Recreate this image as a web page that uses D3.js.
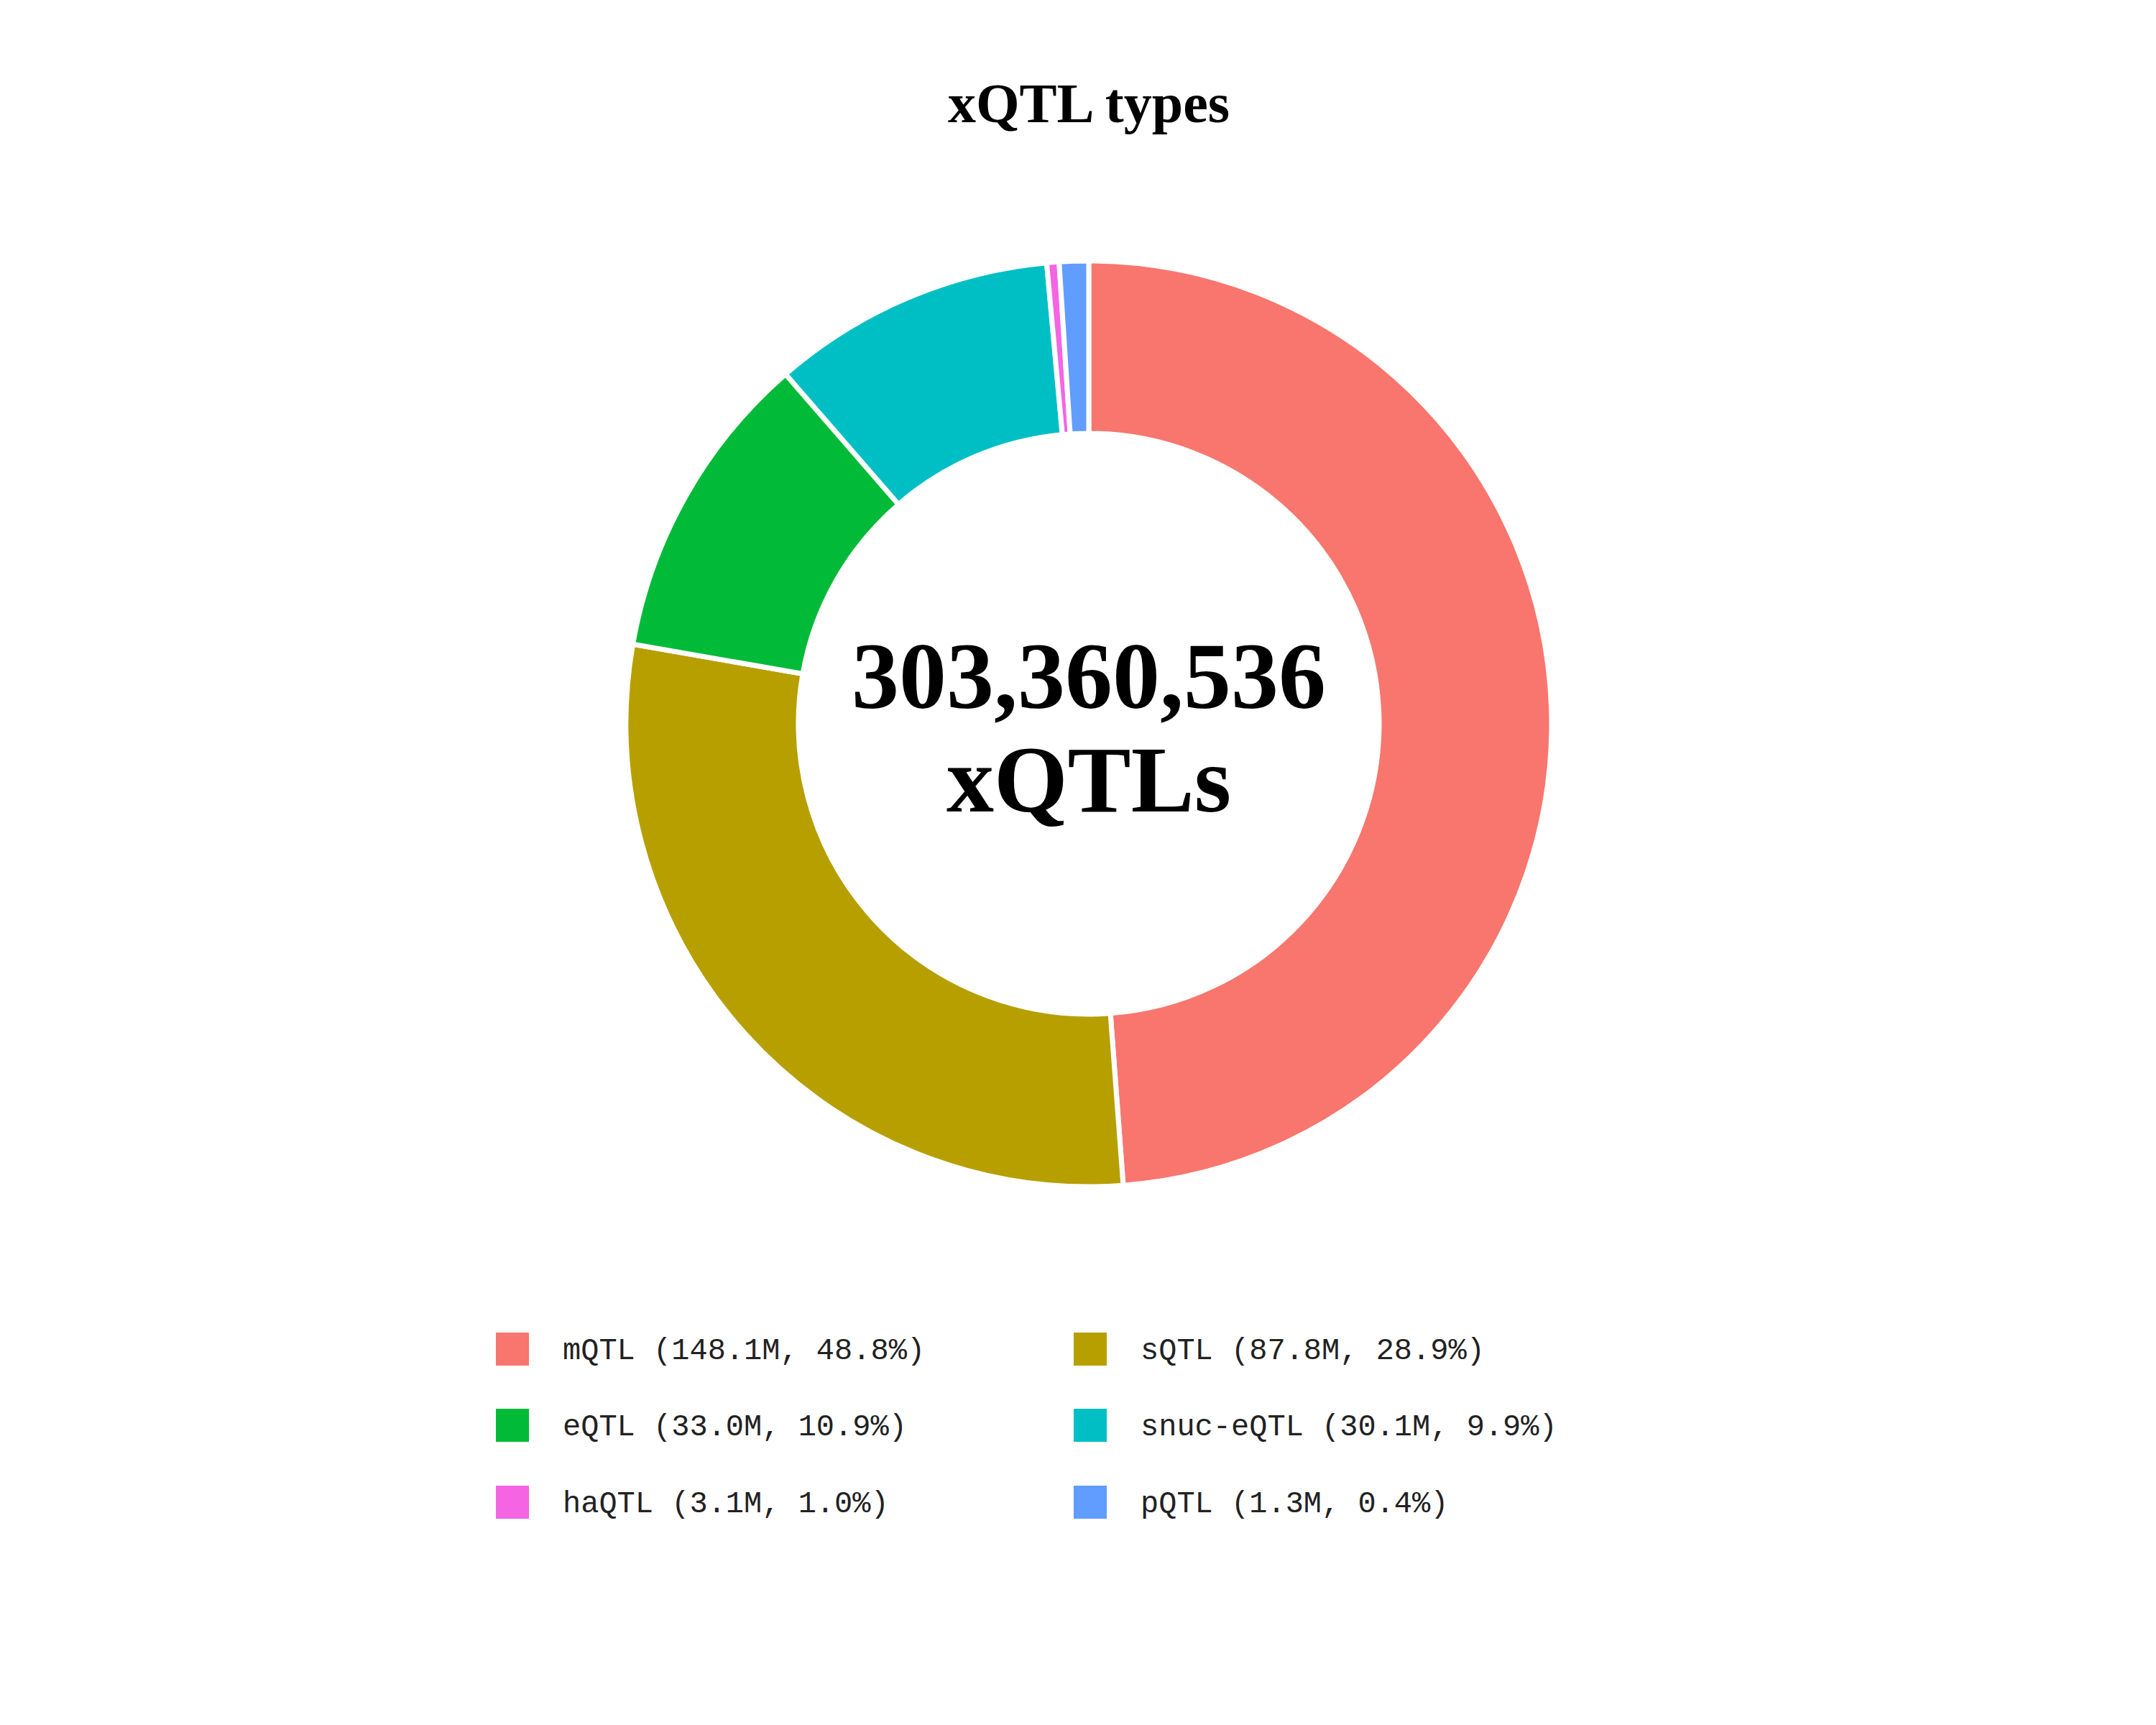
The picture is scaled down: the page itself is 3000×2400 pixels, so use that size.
<!DOCTYPE html>
<html><head><meta charset="utf-8">
<script src="https://cdn.jsdelivr.net/npm/d3@7"></script>
<style>body{margin:0;background:#fff}</style></head>
<body><svg id="c" width="3000" height="2400"></svg>
<script>
// slice order as drawn clockwise from 12 o'clock
const sliceNames = ["mQTL","sQTL","eQTL","snuc-eQTL","small","pQTLslice"];
const sliceValues = [148.1, 87.8, 33.0, 30.1, 1.3, 3.1];
const sliceColors = ["#F8766D","#B79F00","#00BA38","#00BFC4","#F564E3","#619CFF"];
const legendLabels = ["mQTL (148.1M, 48.8%)","sQTL (87.8M, 28.9%)","eQTL (33.0M, 10.9%)","snuc-eQTL (30.1M, 9.9%)","haQTL (3.1M, 1.0%)","pQTL (1.3M, 0.4%)"];
const legendColors = ["#F8766D","#B79F00","#00BA38","#00BFC4","#F564E3","#619CFF"];
const totalLabel = "303,360,536";

const svg = d3.select("#c");
const cx = 1515, cy = 1007;
svg.append("text").attr("x",cx).attr("y",170).attr("text-anchor","middle")
  .attr("font-family","Liberation Serif").attr("font-weight","bold").attr("font-size",78).text("xQTL types");
const pie = d3.pie().sort(null).value(d=>d);
const arc = d3.arc().innerRadius(404).outerRadius(644);
const g = svg.append("g").attr("transform",`translate(${cx},${cy})`);
g.selectAll("path").data(pie(sliceValues)).join("path")
  .attr("d",arc).attr("fill",(d,i)=>sliceColors[i]).attr("stroke","#fff").attr("stroke-width",7);
g.append("text").attr("y",-22).attr("text-anchor","middle").attr("font-family","Liberation Serif")
  .attr("font-weight","bold").attr("font-size",132).text(totalLabel);
g.append("text").attr("y",122).attr("text-anchor","middle").attr("font-family","Liberation Serif")
  .attr("font-weight","bold").attr("font-size",132).text("xQTLs");
const colX = [690, 1494], rowY = [1877, 1983, 2090];
legendLabels.forEach((l,i)=>{
  const x = colX[i%2], y = rowY[Math.floor(i/2)];
  svg.append("rect").attr("x",x).attr("y",y-23).attr("width",46).attr("height",46).attr("fill",legendColors[i]);
  svg.append("text").attr("x",x+93).attr("y",y+14).attr("font-family","Liberation Mono")
    .attr("font-size",42).attr("fill","#222").text(l);
});
</script></body></html>
